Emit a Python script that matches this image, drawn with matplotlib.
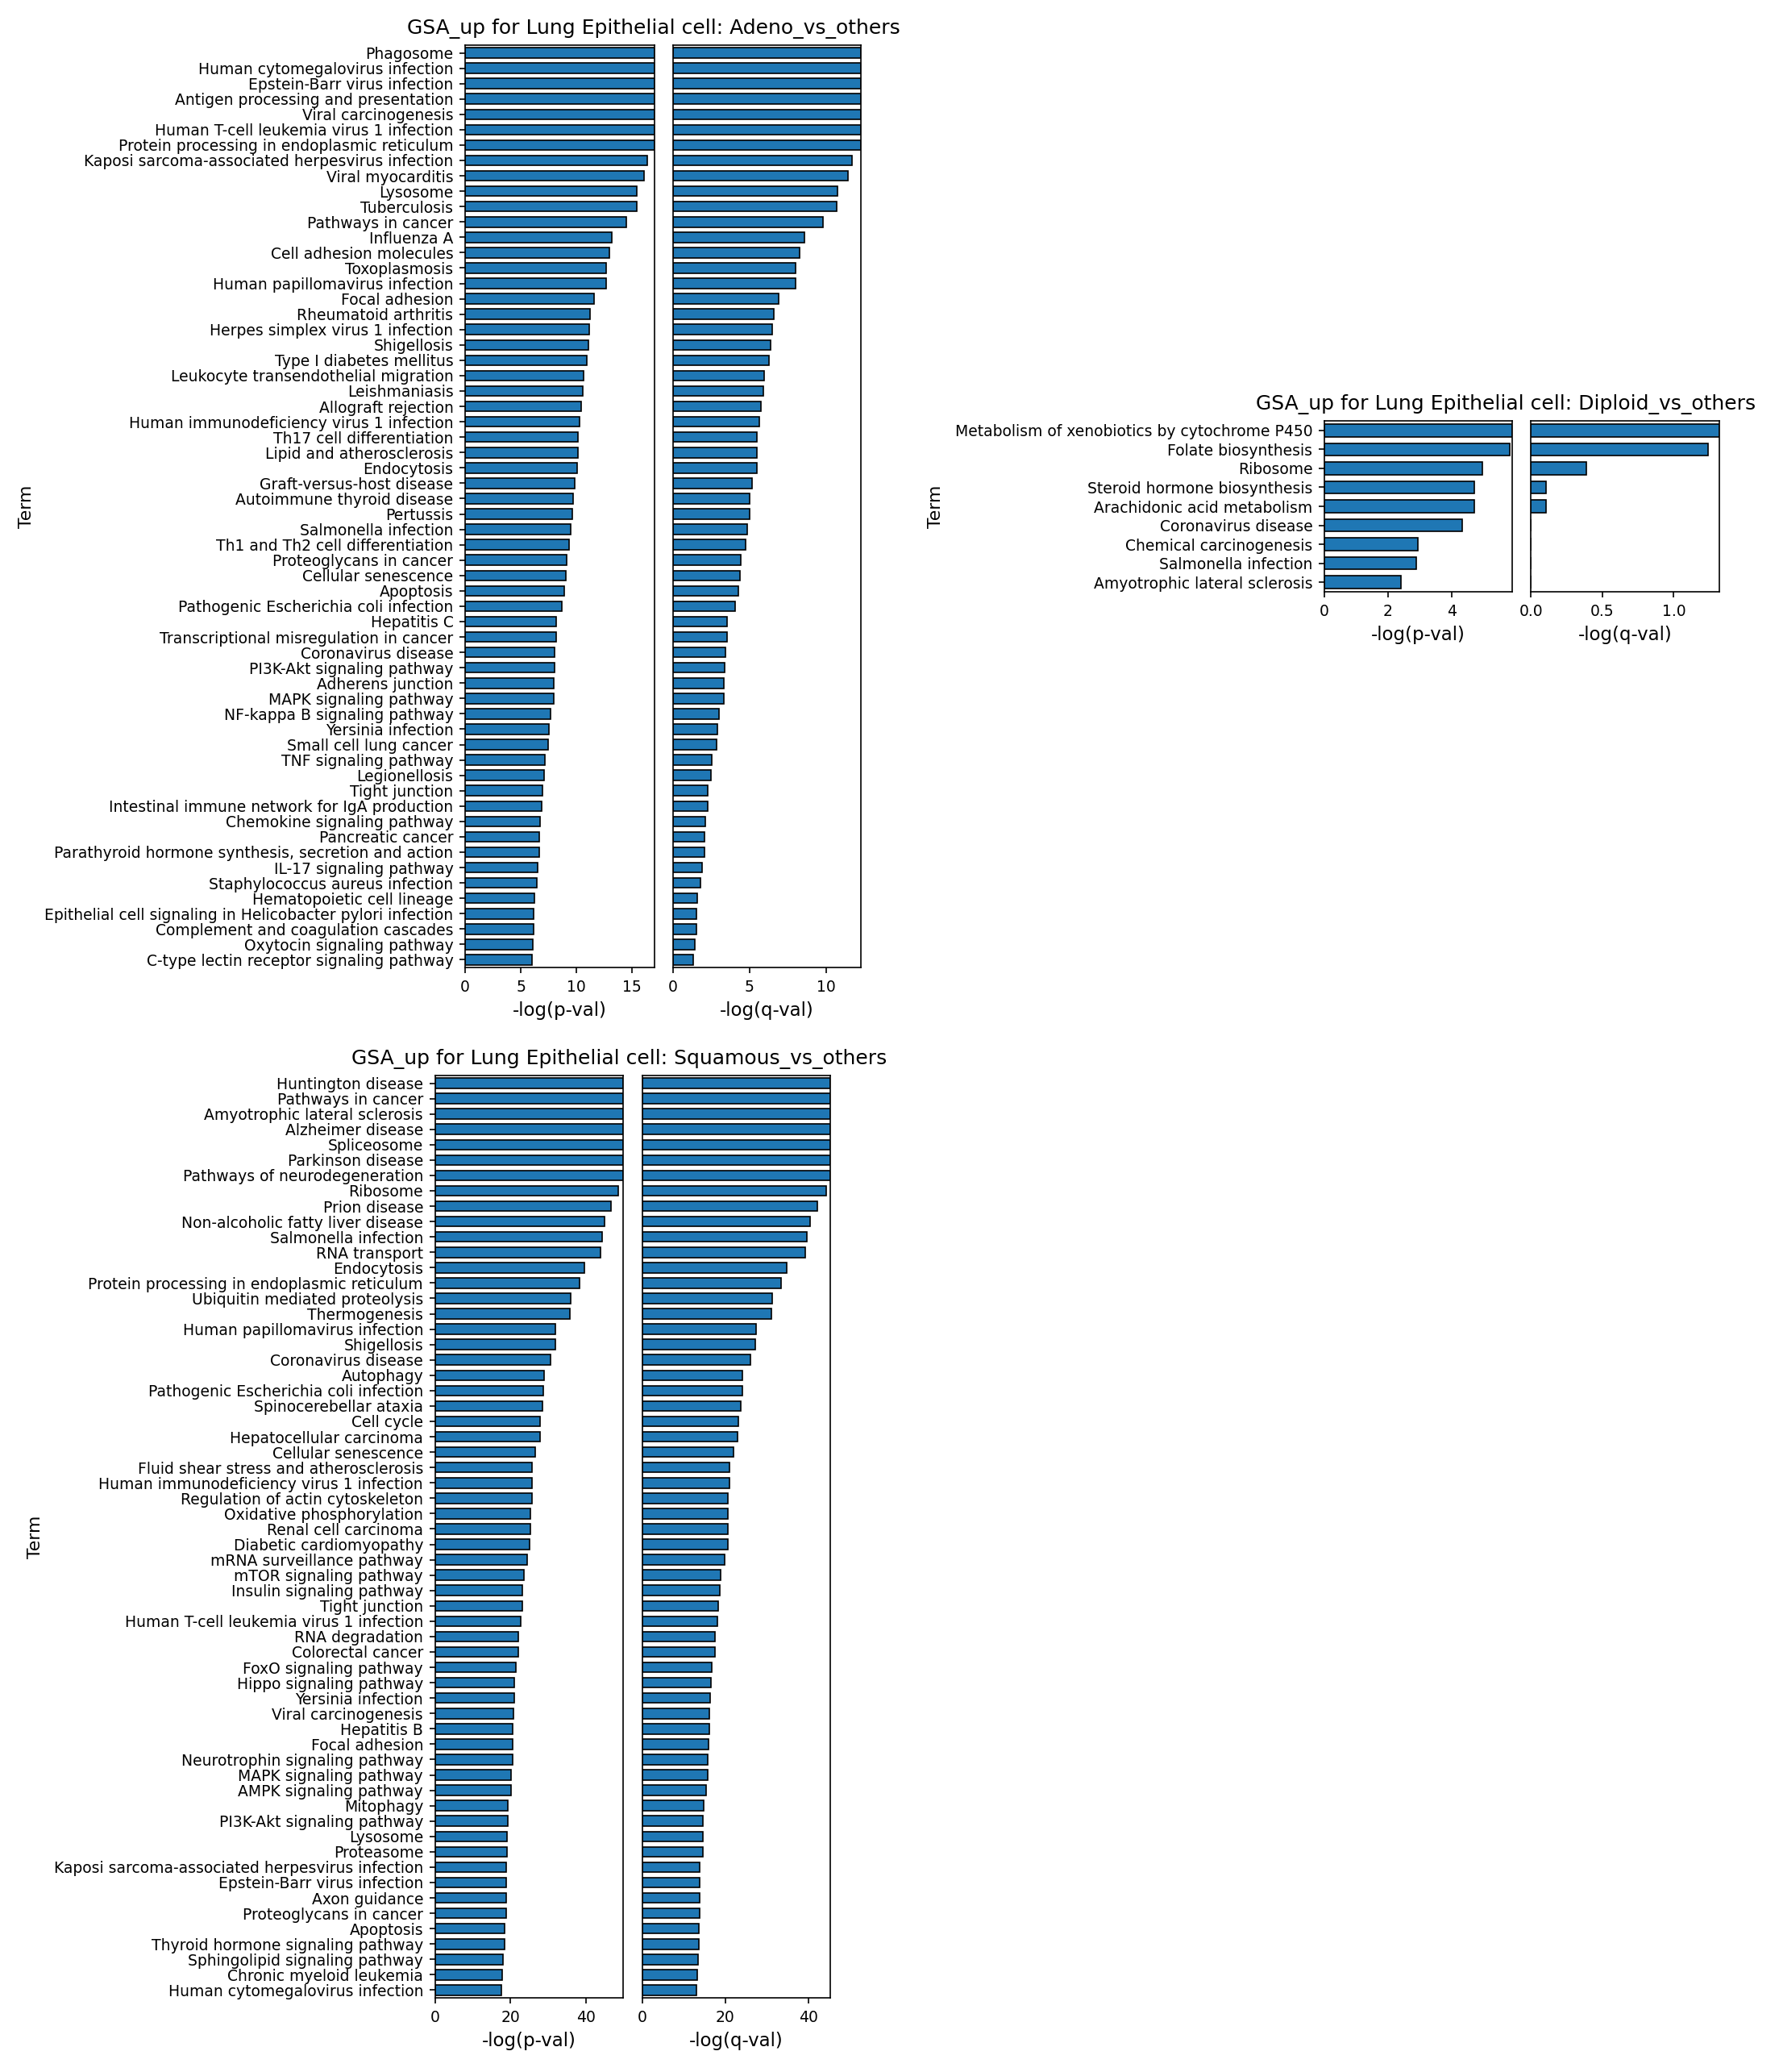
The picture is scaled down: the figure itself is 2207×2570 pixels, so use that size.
import numpy as np
import matplotlib
matplotlib.use("Agg")
from matplotlib import pyplot as plt
from matplotlib.ticker import MultipleLocator

# ---------- data ----------
adeno_terms = [
    "Phagosome", "Human cytomegalovirus infection", "Epstein-Barr virus infection",
    "Antigen processing and presentation", "Viral carcinogenesis",
    "Human T-cell leukemia virus 1 infection", "Protein processing in endoplasmic reticulum",
    "Kaposi sarcoma-associated herpesvirus infection", "Viral myocarditis", "Lysosome",
    "Tuberculosis", "Pathways in cancer", "Influenza A", "Cell adhesion molecules",
    "Toxoplasmosis", "Human papillomavirus infection", "Focal adhesion",
    "Rheumatoid arthritis", "Herpes simplex virus 1 infection", "Shigellosis",
    "Type I diabetes mellitus", "Leukocyte transendothelial migration", "Leishmaniasis",
    "Allograft rejection", "Human immunodeficiency virus 1 infection",
    "Th17 cell differentiation", "Lipid and atherosclerosis", "Endocytosis",
    "Graft-versus-host disease", "Autoimmune thyroid disease", "Pertussis",
    "Salmonella infection", "Th1 and Th2 cell differentiation", "Proteoglycans in cancer",
    "Cellular senescence", "Apoptosis", "Pathogenic Escherichia coli infection",
    "Hepatitis C", "Transcriptional misregulation in cancer", "Coronavirus disease",
    "PI3K-Akt signaling pathway", "Adherens junction", "MAPK signaling pathway",
    "NF-kappa B signaling pathway", "Yersinia infection", "Small cell lung cancer",
    "TNF signaling pathway", "Legionellosis", "Tight junction",
    "Intestinal immune network for IgA production", "Chemokine signaling pathway",
    "Pancreatic cancer", "Parathyroid hormone synthesis, secretion and action",
    "IL-17 signaling pathway", "Staphylococcus aureus infection",
    "Hematopoietic cell lineage",
    "Epithelial cell signaling in Helicobacter pylori infection",
    "Complement and coagulation cascades", "Oxytocin signaling pathway",
    "C-type lectin receptor signaling pathway",
]
adeno_p = [17.0, 17.0, 17.0, 17.0, 17.0, 17.0, 17.0,
           16.37, 16.07, 15.45, 15.45, 14.49, 13.17, 12.96, 12.66, 12.66, 11.59,
           11.24, 11.13, 11.08, 10.93, 10.63, 10.57, 10.42, 10.27, 10.12, 10.12,
           10.07, 9.86, 9.71, 9.61, 9.51, 9.35, 9.15, 9.05, 8.90, 8.69,
           8.19, 8.19, 8.03, 8.03, 7.98, 7.98, 7.68, 7.52, 7.47, 7.17,
           7.12, 6.96, 6.86, 6.71, 6.66, 6.66, 6.51, 6.46, 6.25, 6.15,
           6.15, 6.10, 6.00]
adeno_q = [12.3, 12.3, 12.3, 12.3, 12.3, 12.3, 12.3,
           11.71, 11.45, 10.75, 10.71, 9.82, 8.57, 8.27, 8.01, 8.01, 6.91,
           6.61, 6.50, 6.39, 6.28, 5.98, 5.91, 5.76, 5.65, 5.50, 5.50,
           5.47, 5.17, 5.02, 4.99, 4.87, 4.73, 4.43, 4.39, 4.28, 4.06,
           3.55, 3.55, 3.43, 3.40, 3.32, 3.32, 3.03, 2.92, 2.88, 2.55,
           2.51, 2.29, 2.25, 2.14, 2.07, 2.07, 1.88, 1.81, 1.59, 1.55,
           1.55, 1.44, 1.33]

diploid_terms = [
    "Metabolism of xenobiotics by cytochrome P450", "Folate biosynthesis", "Ribosome",
    "Steroid hormone biosynthesis", "Arachidonic acid metabolism", "Coronavirus disease",
    "Chemical carcinogenesis", "Salmonella infection", "Amyotrophic lateral sclerosis",
]
diploid_p = [5.90, 5.84, 4.98, 4.71, 4.71, 4.34, 2.95, 2.90, 2.41]
diploid_q = [1.319, 1.242, 0.388, 0.104, 0.104, 0.0, 0.0, 0.0, 0.0]

squamous_terms = [
    "Huntington disease", "Pathways in cancer", "Amyotrophic lateral sclerosis",
    "Alzheimer disease", "Spliceosome", "Parkinson disease",
    "Pathways of neurodegeneration", "Ribosome", "Prion disease",
    "Non-alcoholic fatty liver disease", "Salmonella infection", "RNA transport",
    "Endocytosis", "Protein processing in endoplasmic reticulum",
    "Ubiquitin mediated proteolysis", "Thermogenesis", "Human papillomavirus infection",
    "Shigellosis", "Coronavirus disease", "Autophagy",
    "Pathogenic Escherichia coli infection", "Spinocerebellar ataxia", "Cell cycle",
    "Hepatocellular carcinoma", "Cellular senescence",
    "Fluid shear stress and atherosclerosis", "Human immunodeficiency virus 1 infection",
    "Regulation of actin cytoskeleton", "Oxidative phosphorylation",
    "Renal cell carcinoma", "Diabetic cardiomyopathy", "mRNA surveillance pathway",
    "mTOR signaling pathway", "Insulin signaling pathway", "Tight junction",
    "Human T-cell leukemia virus 1 infection", "RNA degradation", "Colorectal cancer",
    "FoxO signaling pathway", "Hippo signaling pathway", "Yersinia infection",
    "Viral carcinogenesis", "Hepatitis B", "Focal adhesion",
    "Neurotrophin signaling pathway", "MAPK signaling pathway", "AMPK signaling pathway",
    "Mitophagy", "PI3K-Akt signaling pathway", "Lysosome", "Proteasome",
    "Kaposi sarcoma-associated herpesvirus infection", "Epstein-Barr virus infection",
    "Axon guidance", "Proteoglycans in cancer", "Apoptosis",
    "Thyroid hormone signaling pathway", "Sphingolipid signaling pathway",
    "Chronic myeloid leukemia", "Human cytomegalovirus infection",
]
squamous_p = [50.0, 50.0, 50.0, 50.0, 50.0, 50.0, 50.0,
              48.7, 46.6, 45.0, 44.3, 44.0, 39.6, 38.3, 36.1, 35.7, 32.0,
              32.0, 30.7, 29.0, 28.8, 28.5, 27.8, 27.8, 26.7, 25.8, 25.7,
              25.7, 25.4, 25.4, 25.2, 24.5, 23.5, 23.2, 23.1, 22.8, 22.2,
              22.2, 21.4, 21.1, 21.1, 20.9, 20.6, 20.6, 20.5, 20.2, 20.1,
              19.4, 19.4, 19.2, 19.2, 18.8, 18.8, 18.8, 18.8, 18.4, 18.4,
              18.1, 17.9, 17.6]
squamous_q = [45.3, 45.3, 45.3, 45.3, 45.3, 45.3, 45.3,
              44.3, 42.2, 40.4, 39.6, 39.2, 34.8, 33.5, 31.3, 31.1, 27.4,
              27.2, 26.1, 24.2, 24.1, 23.8, 23.1, 22.9, 21.9, 21.1, 21.0,
              20.7, 20.7, 20.7, 20.6, 19.8, 18.9, 18.6, 18.2, 18.1, 17.5,
              17.5, 16.7, 16.5, 16.3, 16.2, 16.2, 15.9, 15.8, 15.8, 15.4,
              14.7, 14.6, 14.6, 14.6, 13.9, 13.9, 13.9, 13.9, 13.6, 13.6,
              13.4, 13.2, 13.0]

# ---------- figure layout (pixel boxes measured on the reference) ----------
W, H, DPI = 2207, 2570, 150
plt.rcParams['xtick.labelsize'] = 9
plt.rcParams['ytick.labelsize'] = 9
plt.rcParams['axes.labelsize'] = 11

fig = plt.figure(figsize=(W / DPI, H / DPI), dpi=DPI)


def rect(x0, x1, y0, y1):
    return [x0 / W, 1 - y1 / H, (x1 - x0) / W, (y1 - y0) / H]


def panel(title, terms, pvals, qvals, px, qx, ys, title_xy, ylab_x, p_step, q_step):
    n = len(terms)
    ypos = np.arange(n)
    ax_p = fig.add_axes(rect(px[0], px[1], ys[0], ys[1]))
    ax_q = fig.add_axes(rect(qx[0], qx[1], ys[0], ys[1]), sharey=ax_p)
    for ax, vals, lab, step in [(ax_p, pvals, '-log(p-val)', p_step),
                                (ax_q, qvals, '-log(q-val)', q_step)]:
        ax.barh(ypos, vals, height=0.66, color='#1f77b4', edgecolor='black', linewidth=0.8)
        ax.set_xlim(0, max(vals))
        ax.xaxis.set_major_locator(MultipleLocator(step))
        ax.set_xlabel(lab)
    ax_p.set_ylim(n - 0.5, -0.5)
    ax_p.set_yticks(ypos)
    ax_p.set_yticklabels(terms)
    ax_q.tick_params(axis='y', left=False, labelleft=False)
    fig.text(title_xy[0] / W, 1 - title_xy[1] / H, title, ha='center', va='baseline', fontsize=12)
    fig.text(ylab_x / W, 1 - (ys[0] + ys[1]) / 2 / H, 'Term', rotation=90,
             ha='center', va='center', fontsize=10.5)


panel('GSA_up for Lung Epithelial cell: Adeno_vs_others', adeno_terms, adeno_p, adeno_q,
      (577, 811.6), (834.8, 1068.4), (56, 1200), (811, 42), 33, 5, 5)
panel('GSA_up for Lung Epithelial cell: Diploid_vs_others', diploid_terms, diploid_p, diploid_q,
      (1643, 1875.6), (1899.4, 2132.8), (522, 734), (1868, 508), 1161, 2, 0.5)
panel('GSA_up for Lung Epithelial cell: Squamous_vs_others', squamous_terms, squamous_p, squamous_q,
      (539.7, 773.4), (796.9, 1030), (1334, 2478), (768, 1320), 44, 20, 20)

fig.savefig('out.png', dpi=DPI)
